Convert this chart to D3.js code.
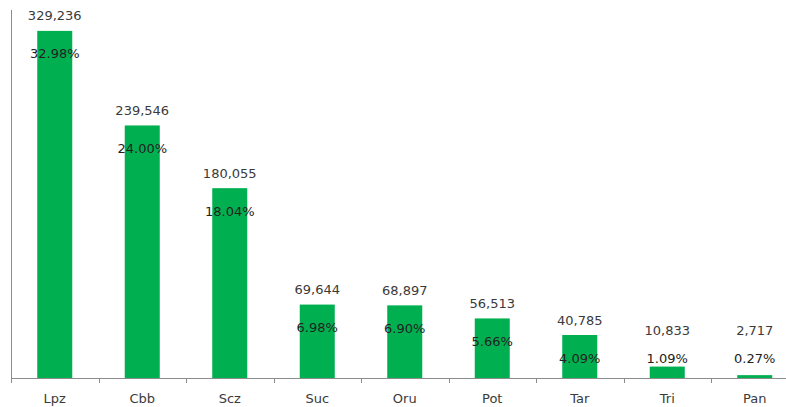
<!DOCTYPE html>
<html>
<head>
<meta charset="utf-8">
<script src="https://cdn.jsdelivr.net/npm/d3@7"></script>
<style>
	body{ margin:0; background:#fff; }
	text{ font-family:"DejaVu Sans", Verdana, sans-serif; }
</style>
</head>
<body>
<svg id="chart" width="786" height="407"></svg>
<script>
var categories = ["Lpz", "Cbb", "Scz", "Suc", "Oru", "Pot", "Tar", "Tri", "Pan"];
var values = [329236, 239546, 180055, 69644, 68897, 56513, 40785, 10833, 2717];
var shares = ["32.98%", "24.00%", "18.04%", "6.98%", "6.90%", "5.66%", "4.09%", "1.09%", "0.27%"];

var barColor = "#00b050";
var axisColor = "#8c8c8c";
var textColor = "#3a3a3a";
var fontSize = "13px";

var svg = d3.select("#chart");

var x = d3.scaleBand()
	.domain(categories)
	.range([ 11, 798.5 ])
	.paddingInner(0.6)
	.paddingOuter(0.3);
var y = d3.scaleLinear()
	.domain([ 0, 350000 ])
	.range([ 378, 9 ]);

var rows = categories.map(function(c, i){
	return { cat: c, value: values[i], share: shares[i] };
});

// bars
svg.append("g").selectAll("rect").data(rows).enter()
	.append("rect")
	.attr("x", function(d){ return x(d.cat); })
	.attr("y", function(d){ return y(d.value); })
	.attr("width", x.bandwidth())
	.attr("height", function(d){ return y(0) - y(d.value); })
	.attr("fill", barColor);

// axes
var step = x.step();
var x0 = x.range()[0];
svg.append("line")
	.attr("x1", x0 + 0.5).attr("x2", x0 + 0.5)
	.attr("y1", 10).attr("y2", y(0))
	.attr("stroke", axisColor);
svg.append("line")
	.attr("x1", x0).attr("x2", 786)
	.attr("y1", y(0) + 0.5).attr("y2", y(0) + 0.5)
	.attr("stroke", axisColor);
svg.append("g").selectAll("line").data(d3.range(categories.length + 1)).enter()
	.append("line")
	.attr("x1", function(i){ return Math.round(x0 + i * step) + 0.5; })
	.attr("x2", function(i){ return Math.round(x0 + i * step) + 0.5; })
	.attr("y1", y(0)).attr("y2", y(0) + 5)
	.attr("stroke", axisColor);

// category labels
svg.append("g").selectAll("text").data(rows).enter()
	.append("text")
	.attr("x", function(d){ return x(d.cat) + x.bandwidth() / 2; })
	.attr("y", 398)
	.attr("dy", "0.35em")
	.attr("text-anchor", "middle")
	.attr("font-size", fontSize)
	.attr("fill", textColor)
	.text(function(d){ return d.cat; });

// data labels: share inside the bar top, value above; pushed up on short bars
var pctY = function(d){ return Math.min(y(d.value) + 23, 358); };
var valY = function(d){ return Math.min(y(d.value) - 15, pctY(d) - 28); };
var fmt = d3.format(",");

svg.append("g").selectAll("text").data(rows).enter()
	.append("text")
	.attr("x", function(d){ return x(d.cat) + x.bandwidth() / 2; })
	.attr("y", valY)
	.attr("dy", "0.35em")
	.attr("text-anchor", "middle")
	.attr("font-size", fontSize)
	.attr("fill", textColor)
	.text(function(d){ return fmt(d.value); });

svg.append("g").selectAll("text").data(rows).enter()
	.append("text")
	.attr("x", function(d){ return x(d.cat) + x.bandwidth() / 2; })
	.attr("y", pctY)
	.attr("dy", "0.35em")
	.attr("text-anchor", "middle")
	.attr("font-size", fontSize)
	.attr("fill", "#222")
	.text(function(d){ return d.share; });
</script>
</body>
</html>
